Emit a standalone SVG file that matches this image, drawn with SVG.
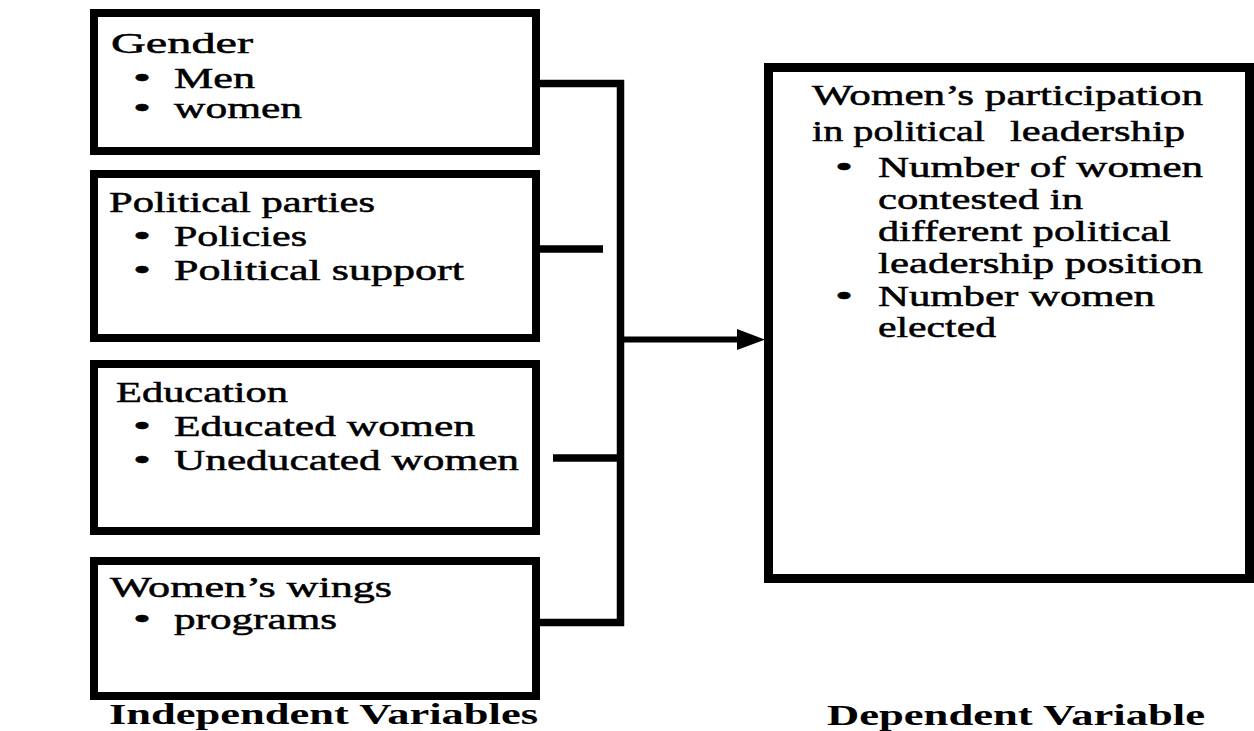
<svg xmlns="http://www.w3.org/2000/svg" width="1254" height="731" viewBox="0 0 1254 731">
<style>
.box{fill:#fff;stroke:#000;stroke-width:8}
.dep{fill:#fff;stroke:#000;stroke-width:9}
.t{font-family:"Liberation Serif","Times New Roman",serif;font-size:29px;fill:#000;stroke:#000;stroke-width:0.5}
.b{font-family:"Liberation Serif","Times New Roman",serif;font-size:29px;font-weight:bold;fill:#000}
.ln{fill:none;stroke:#000;stroke-width:7.5;stroke-linejoin:miter;stroke-linecap:butt}
.ar{fill:none;stroke:#000;stroke-width:6}
</style>
<defs>
<marker id="arrow" markerUnits="userSpaceOnUse" markerWidth="28" markerHeight="21" refX="8" refY="10.5" orient="auto">
<path d="M0,0 L28,10.5 L0,21 Z" fill="#000"/>
</marker>
</defs>
<rect width="1254" height="731" fill="#fff"/>
<g id="connectors">
<path class="ln" d="M540,83.5 H620.5 V622.5 H540"/>
<path class="ln" d="M540,249 H603"/>
<path class="ln" d="M553,458 H620.5"/>
<path class="ar" d="M620,339.5 H745" marker-end="url(#arrow)"/>
</g>
<g id="gender">
<rect class="box" x="94" y="13" width="442" height="138"/>
<text class="t" x="111" y="53" textLength="142" lengthAdjust="spacingAndGlyphs">Gender</text>
<text class="t" x="133" y="88" textLength="18" lengthAdjust="spacingAndGlyphs">•</text>
<text class="t" x="174" y="88" textLength="81" lengthAdjust="spacingAndGlyphs">Men</text>
<text class="t" x="133" y="118" textLength="18" lengthAdjust="spacingAndGlyphs">•</text>
<text class="t" x="174" y="118" textLength="128" lengthAdjust="spacingAndGlyphs">women</text>
</g>
<g id="political-parties">
<rect class="box" x="94" y="174" width="442" height="164"/>
<text class="t" x="109" y="212" textLength="266" lengthAdjust="spacingAndGlyphs">Political parties</text>
<text class="t" x="133" y="246" textLength="18" lengthAdjust="spacingAndGlyphs">•</text>
<text class="t" x="174" y="246" textLength="133" lengthAdjust="spacingAndGlyphs">Policies</text>
<text class="t" x="133" y="280" textLength="18" lengthAdjust="spacingAndGlyphs">•</text>
<text class="t" x="174" y="280" textLength="290" lengthAdjust="spacingAndGlyphs">Political support</text>
</g>
<g id="education">
<rect class="box" x="94" y="364" width="442" height="167"/>
<text class="t" x="116" y="402" textLength="172" lengthAdjust="spacingAndGlyphs">Education</text>
<text class="t" x="133" y="436" textLength="18" lengthAdjust="spacingAndGlyphs">•</text>
<text class="t" x="174" y="436" textLength="301" lengthAdjust="spacingAndGlyphs">Educated women</text>
<text class="t" x="133" y="470" textLength="18" lengthAdjust="spacingAndGlyphs">•</text>
<text class="t" x="174" y="470" textLength="345" lengthAdjust="spacingAndGlyphs">Uneducated women</text>
</g>
<g id="womens-wings">
<rect class="box" x="94" y="561" width="442" height="135"/>
<text class="t" x="110" y="597" textLength="282" lengthAdjust="spacingAndGlyphs">Women’s wings</text>
<text class="t" x="133" y="629" textLength="18" lengthAdjust="spacingAndGlyphs">•</text>
<text class="t" x="174" y="629" textLength="163" lengthAdjust="spacingAndGlyphs">programs</text>
</g>
<g id="womens-participation">
<rect class="dep" x="768.5" y="67.5" width="481" height="511"/>
<text class="t" x="812" y="105" textLength="391" lengthAdjust="spacingAndGlyphs">Women’s participation</text>
<text class="t" y="141"><tspan x="812" textLength="173" lengthAdjust="spacingAndGlyphs">in political</tspan><tspan x="1010" textLength="175" lengthAdjust="spacingAndGlyphs">leadership</tspan></text>
<text class="t" x="835" y="177" textLength="18" lengthAdjust="spacingAndGlyphs">•</text>
<text class="t" x="878" y="177" textLength="325" lengthAdjust="spacingAndGlyphs">Number of women</text>
<text class="t" x="878" y="209" textLength="205" lengthAdjust="spacingAndGlyphs">contested in</text>
<text class="t" x="878" y="241" textLength="293" lengthAdjust="spacingAndGlyphs">different political</text>
<text class="t" x="878" y="273" textLength="325" lengthAdjust="spacingAndGlyphs">leadership position</text>
<text class="t" x="835" y="306" textLength="18" lengthAdjust="spacingAndGlyphs">•</text>
<text class="t" x="878" y="306" textLength="277" lengthAdjust="spacingAndGlyphs">Number women</text>
<text class="t" x="878" y="337" textLength="118" lengthAdjust="spacingAndGlyphs">elected</text>
</g>
<g id="labels">
<text class="b" x="109" y="724" textLength="429" lengthAdjust="spacingAndGlyphs">Independent Variables</text>
<text class="b" x="827" y="725" textLength="378" lengthAdjust="spacingAndGlyphs">Dependent Variable</text>
</g>
</svg>
